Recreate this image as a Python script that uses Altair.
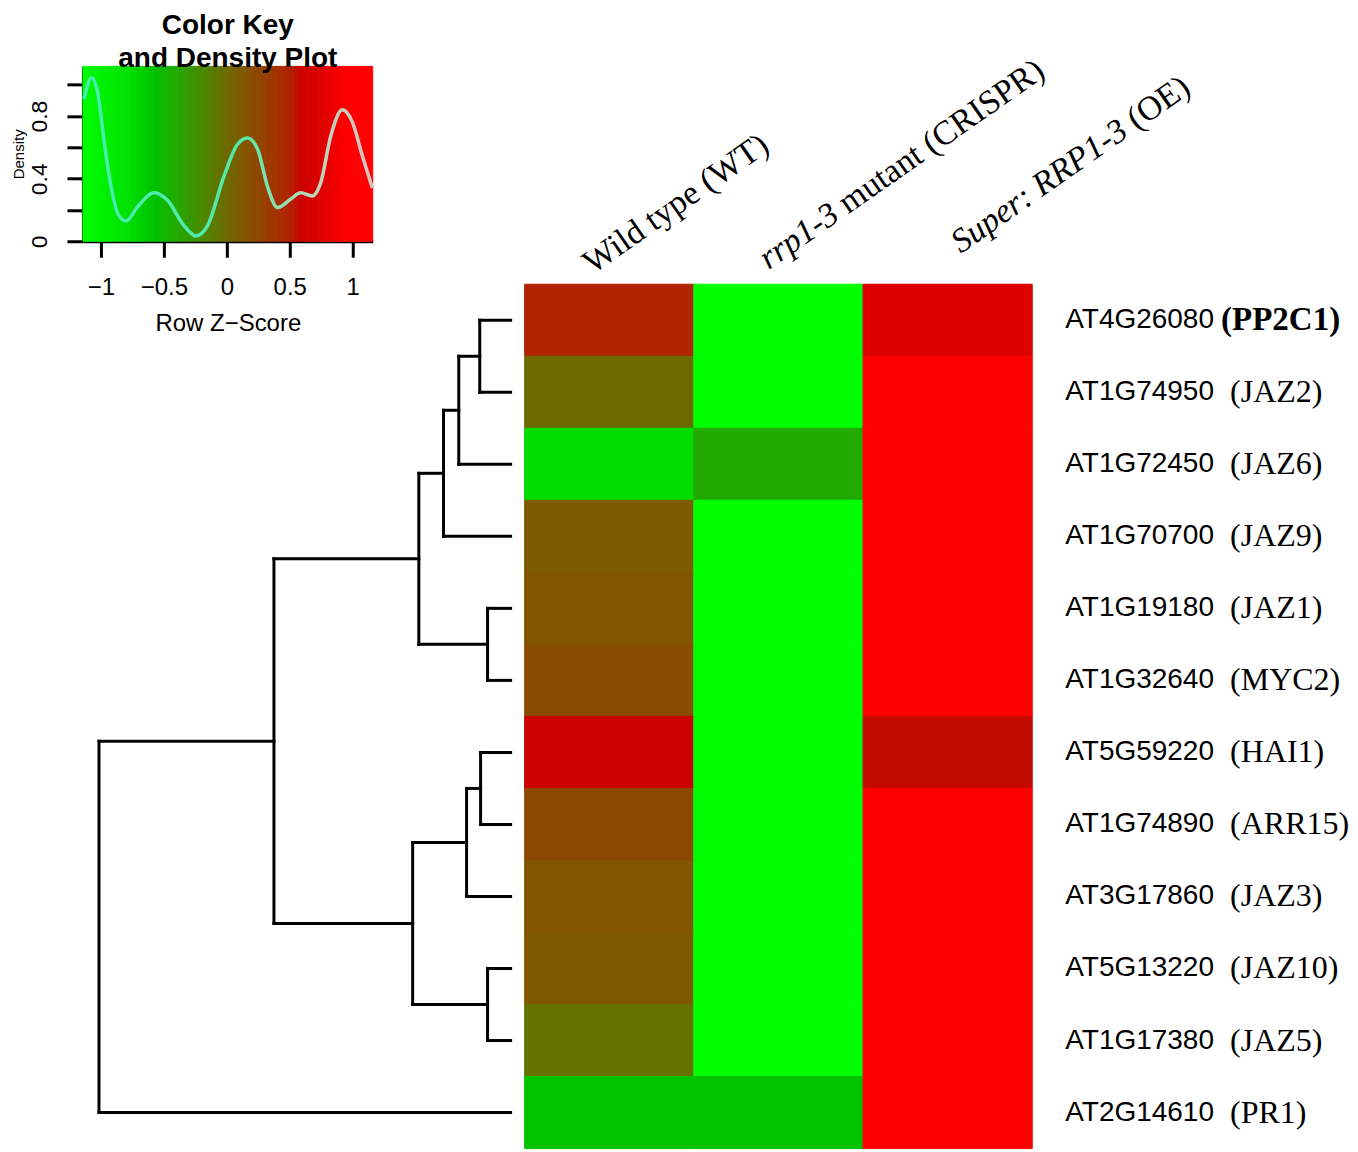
import altair as alt
import pandas as pd
import numpy as np

# ---------------- data ----------------
gene_ids = ["AT4G26080", "AT1G74950", "AT1G72450", "AT1G70700", "AT1G19180", "AT1G32640",
            "AT5G59220", "AT1G74890", "AT3G17860", "AT5G13220", "AT1G17380", "AT2G14610"]
gene_names = ["(PP2C1)", "(JAZ2)", "(JAZ6)", "(JAZ9)", "(JAZ1)", "(MYC2)",
              "(HAI1)", "(ARR15)", "(JAZ3)", "(JAZ10)", "(JAZ5)", "(PR1)"]
samples = ["WT", "MUT", "OE"]

# row z-scores
z_wt = [0.50, 0.00, -0.75, 0.11, 0.15, 0.21, 0.60, 0.24, 0.14, 0.12, -0.05, -0.58]
z_mut = [-1.15, -1.15, -0.40, -1.15, -1.15, -1.15, -1.15, -1.15, -1.15, -1.15, -1.15, -0.58]
z_oe = [0.75, 1.12, 1.15, 1.05, 1.00, 0.95, 0.57, 0.93, 1.01, 1.03, 1.15, 1.15]

# density curve of the colour key
dens_z = [-1.135, -1.074, -1.026, -0.973, -0.92, -0.855, -0.80, -0.71, -0.577, -0.47, -0.34,
          -0.246, -0.153, -0.021, 0.085, 0.164, 0.244, 0.323, 0.402, 0.508, 0.587, 0.68,
          0.746, 0.825, 0.918, 0.998, 1.077, 1.156]
dens_y = [0.91, 1.046, 0.95, 0.63, 0.35, 0.16, 0.13, 0.22, 0.31, 0.26, 0.10,
          0.034, 0.10, 0.42, 0.62, 0.66, 0.59, 0.35, 0.215, 0.27, 0.31, 0.29,
          0.375, 0.67, 0.84, 0.76, 0.545, 0.34]

# row dendrogram (R hclust style: negative = leaf, positive = earlier merge)
merges = [(-1, -2), (1, -3), (2, -4), (-5, -6), (3, 4), (-7, -8), (6, -9),
          (-10, -11), (7, 8), (5, 9), (10, -12)]
merge_heights = [0.75, 1.26, 1.63, 0.56, 2.23, 0.73, 1.07, 0.56, 2.38, 5.75, 10.0]

# colour ramp (z -> colour)
ramp_z = [-1.15, -0.75, -0.58, -0.40, 0.0, 0.50, 0.60, 0.75, 0.95, 1.16]
ramp_c = ["#00FF00", "#00DD00", "#00C300", "#22AA00", "#6E6A00", "#B02400",
          "#CC0000", "#DD0000", "#FF0000", "#FF0000"]

# ---------------- frames ----------------
rows = []
for i, g in enumerate(gene_ids):
    for s, col in zip(samples, [z_wt, z_mut, z_oe]):
        rows.append({"gene": g, "sample": s, "z": col[i]})
heat_df = pd.DataFrame(rows)
lab_df = pd.DataFrame({"gene": gene_ids, "name": gene_names})

color_scale = alt.Scale(domain=ramp_z, range=ramp_c, interpolate="rgb")

# key ramp
edges = np.linspace(-1.143, 1.159, 116)
key_df = pd.DataFrame({"z0": edges[:-1], "z1": edges[1:], "zm": (edges[:-1] + edges[1:]) / 2})
dens_df = pd.DataFrame({"z": dens_z, "d": dens_y})

# dendrogram segments
pos = {}
hgt = {}
for i in range(len(gene_ids)):
    pos[-(i + 1)] = i + 0.5
    hgt[-(i + 1)] = 0.0
segs = []
for k, ((a, b), h) in enumerate(zip(merges, merge_heights)):
    pa, pb = pos[a], pos[b]
    segs.append({"x": h, "x2": h, "y": pa, "y2": pb})
    segs.append({"x": h, "x2": hgt[a], "y": pa, "y2": pa})
    segs.append({"x": h, "x2": hgt[b], "y": pb, "y2": pb})
    pos[k + 1] = (pa + pb) / 2
    hgt[k + 1] = h
seg_df = pd.DataFrame(segs)

SANS = "Liberation Sans"
SERIF = "Liberation Serif"

# ---------------- colour key ----------------
kx = alt.Scale(domain=[-1.143, 1.159], nice=False, zero=False)
ky = alt.Scale(domain=[0, 1.118], nice=False)
key_rect = alt.Chart(key_df).mark_rect(strokeWidth=1).encode(
    x=alt.X("z0:Q", scale=kx,
            axis=alt.Axis(values=[-1, -0.5, 0, 0.5, 1], format="~g", title="Row Z\u2212Score",
                          grid=False, domainColor="black", domainWidth=3, tickColor="black",
                          tickWidth=3, tickSize=16, labelFont=SANS, labelFontSize=24,
                          labelColor="black", labelPadding=18, titleFont=SANS, titleFontSize=24,
                          titleFontWeight="normal", titleColor="black", titlePadding=12)),
    x2="z1:Q",
    color=alt.Color("zm:Q", scale=color_scale, legend=None),
    stroke=alt.Stroke("zm:Q", scale=color_scale, legend=None),
)
key_line = alt.Chart(dens_df).mark_line(
    interpolate="monotone", strokeWidth=3.5,
    color=alt.LinearGradient(gradient="linear", x1=0, x2=1, y1=0, y2=0,
                             stops=[alt.GradientStop(color="#45EFB0", offset=0),
                                    alt.GradientStop(color="#55E8A8", offset=0.55),
                                    alt.GradientStop(color="#B8D8B8", offset=0.78),
                                    alt.GradientStop(color="#D8C4C4", offset=1)])
).encode(
    x=alt.X("z:Q", scale=kx),
    y=alt.Y("d:Q", scale=ky,
            axis=alt.Axis(values=[0, 0.2, 0.4, 0.6, 0.8, 1.0], format="~g", title="Density",
                          grid=False,
                          labelExpr="(datum.value == 0 || abs(datum.value-0.4) < 0.01 || abs(datum.value-0.8) < 0.01) ? datum.label : ''",
                          labelAngle=270, labelFont=SANS, labelFontSize=23, labelColor="black",
                          labelPadding=15, domainColor="black", domainWidth=3, tickColor="black",
                          tickWidth=3, tickSize=16, titleFont=SANS, titleFontSize=15,
                          titleFontWeight="normal", titleColor="black", titlePadding=2)),
)
key = alt.layer(key_rect, key_line).properties(
    width=290, height=175,
    title=alt.TitleParams(["Color Key", "and Density Plot"], font=SANS, fontSize=28,
                          fontWeight="bold", color="black", lineHeight=33, offset=-7,
                          anchor="middle"),
)

filler = alt.Chart(pd.DataFrame({"a": [0]})).mark_point(opacity=0).encode(
    x=alt.X("a:Q", axis=None), y=alt.Y("a:Q", axis=None)
).properties(width=508, height=175)

# ---------------- dendrogram ----------------
dendro = alt.Chart(seg_df).mark_rule(color="black", strokeWidth=3, strokeCap="square").encode(
    x=alt.X("x:Q", scale=alt.Scale(domain=[10.39, 0], nice=False, zero=False), axis=None),
    x2="x2:Q",
    y=alt.Y("y:Q", scale=alt.Scale(domain=[0, 12], reverse=True, nice=False, zero=False), axis=None),
    y2="y2:Q",
).properties(width=428, height=865)

# ---------------- heatmap ----------------
ysc = alt.Scale(domain=gene_ids, paddingInner=0, paddingOuter=0)
xsc = alt.Scale(domain=samples, paddingInner=0, paddingOuter=0)
cells = alt.Chart(heat_df).mark_rect(strokeWidth=1).encode(
    x=alt.X("sample:N", scale=xsc, axis=None),
    y=alt.Y("gene:N", scale=ysc, axis=None),
    color=alt.Color("z:Q", scale=color_scale, legend=None),
    stroke=alt.Stroke("z:Q", scale=color_scale, legend=None),
)
id_text = alt.Chart(lab_df).mark_text(align="left", baseline="middle", font=SANS,
                                      fontSize=28, color="black").encode(
    y=alt.Y("gene:N", scale=ysc, axis=None), x=alt.value(541), text="gene:N")
name_text = alt.Chart(lab_df).transform_filter(alt.datum.name != "(PP2C1)").mark_text(
    align="left", baseline="middle", font=SERIF, fontSize=32, color="black").encode(
    y=alt.Y("gene:N", scale=ysc, axis=None), x=alt.value(706), text="name:N")
name_bold = alt.Chart(lab_df).transform_filter(alt.datum.name == "(PP2C1)").mark_text(
    align="left", baseline="middle", font=SERIF, fontSize=33, fontWeight="bold",
    color="black").encode(
    y=alt.Y("gene:N", scale=ysc, axis=None), x=alt.value(697), text="name:N")

col_df = pd.DataFrame({"sample": samples})
ANG = 325
LBL_Y = -21


def col_label(sample, text, italic, dx):
    return alt.Chart(col_df).transform_filter(alt.datum.sample == sample).mark_text(
        align="left", baseline="alphabetic", angle=ANG, font=SERIF, fontSize=34,
        fontStyle="italic" if italic else "normal", color="black", dx=dx, text=text
    ).encode(x=alt.X("sample:N", scale=xsc, axis=None), y=alt.value(LBL_Y))


labels = [
    col_label("WT", "Wild type (WT)", False, -20),
    col_label("MUT", "rrp1-3", True, -12),
    col_label("MUT", "mutant (CRISPR)", False, -12 + 97),
    col_label("OE", "Super: RRP1-3", True, 16),
    col_label("OE", "(OE)", False, 16 + 215),
]

heat = alt.layer(cells, id_text, name_text, name_bold, *labels).properties(width=508, height=865)

chart = alt.concat(key, filler, dendro, heat, columns=2, bounds="flush",
                   spacing={"row": 43, "column": 14}).configure_view(stroke=None).properties(
    padding={"left": 3, "top": 3, "right": 0, "bottom": 0})

chart.save("out.html", embed_options={"renderer": "svg", "actions": False})
